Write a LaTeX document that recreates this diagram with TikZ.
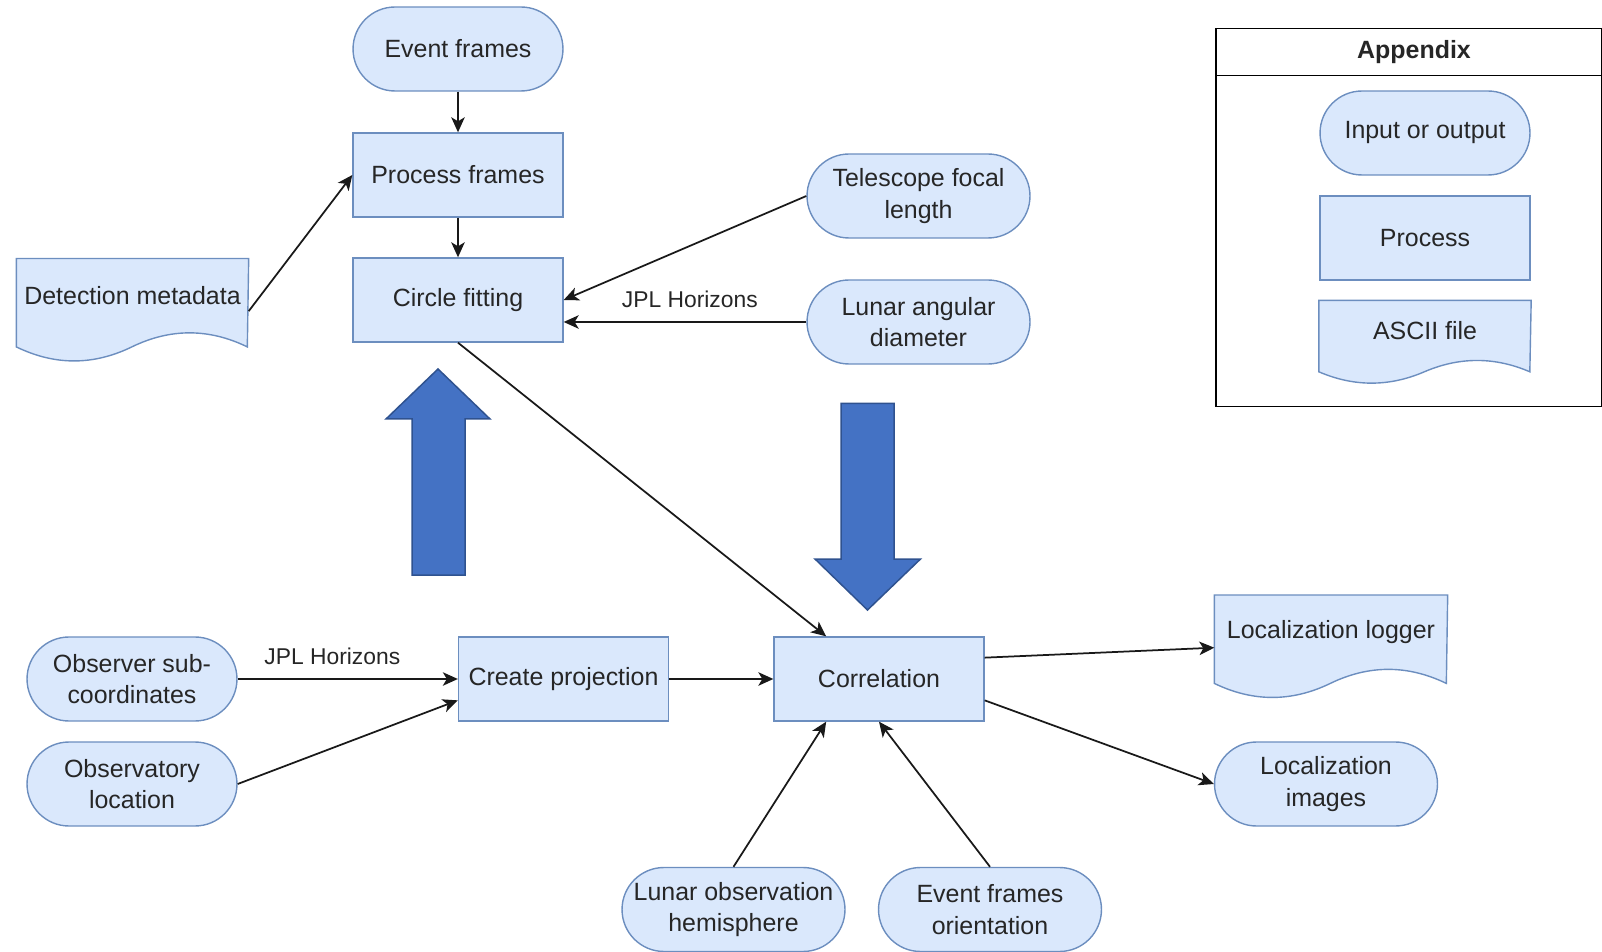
\documentclass[tikz,border=0pt]{standalone}
\usepackage{fontspec}
\setmainfont{Liberation Sans}
\usetikzlibrary{backgrounds, calc, arrows.meta}

\definecolor{boxfill}{HTML}{DAE8FC}
\definecolor{boxline}{HTML}{6C8EBF}
\definecolor{bigfill}{HTML}{4472C4}
\definecolor{bigline}{HTML}{2F528F}
\definecolor{textgray}{HTML}{262626}

\tikzset{
	base/.style={fill=boxfill, draw=boxline, line width=0.028cm, align=center,
		text=textgray, font=\fontsize{14.2}{18}\selectfont, inner sep=0pt},
	procbox/.style={base, rectangle, minimum width=4.2cm, minimum height=1.68cm},
	iobox/.style={base, rectangle, rounded corners=0.84cm, minimum width=4.2cm,
		minimum height=1.68cm},
	docbox/.style={base, rectangle, fill=none, draw=none, anchor=north},
	wavebox/.style={fill=boxfill, draw=boxline, line width=0.028cm},
	link/.style={line width=0.035cm, draw=black!90,
		-{Stealth[length=0.3cm, width=0.27cm, inset=0.08cm]}},
	linklabel/.style={text=textgray, font=\fontsize{13}{16}\selectfont, inner sep=0pt},
	bigarrow/.style={fill=bigfill, draw=bigline, line width=0.03cm}
}

\newcommand{\wavedoc}[3]{%
	\path[wavebox] (#1.north west) -- (#1.north east)
		-- ($(#1.north west)+(#2,0.85*#3)$)
		.. controls ($(#1.north west)+(0.8333*#2,0.67*#3)$) and ($(#1.north west)+(0.6667*#2,0.67*#3)$)
		.. ($(#1.north west)+(0.5*#2,0.85*#3)$)
		.. controls ($(#1.north west)+(0.3333*#2,1.03*#3)$) and ($(#1.north west)+(0.1667*#2,1.03*#3)$)
		.. ($(#1.north west)+(0,0.85*#3)$) -- cycle;%
}

\begin{document}
\begin{tikzpicture}[x=0.02cm, y=-0.02cm]
		\useasboundingbox (0,0) rectangle (1602,952);
		\node[iobox] (eventframes) at (458,49) {Event frames};
		\node[procbox] (processframes) at (458,175) {Process frames};
		\node[procbox] (circlefit) at (458,300) {Circle fitting};
		\node[docbox, minimum width=4.62cm, minimum height=1.456cm] (detection) at (132.5,258.5) {Detection metadata};
		\node[iobox, minimum width=4.46cm] (focal) at (918.5,196) {Telescope focal\\length};
		\node[iobox, minimum width=4.46cm] (angdiam) at (918.5,322) {Lunar angular\\diameter};
		\node[iobox] (obssub) at (132,679) {Observer sub-\\coordinates};
		\node[iobox] (obsloc) at (132,784) {Observatory\\location};
		\node[procbox] (projection) at (563.5,679) {Create projection};
		\node[procbox] (correlation) at (879,679) {Correlation};
		\node[docbox, minimum width=4.64cm, minimum height=1.456cm] (logger) at (1331,595) {Localization logger};
		\node[iobox, minimum width=4.46cm] (locimages) at (1326,784) {Localization\\images};
		\node[iobox, minimum width=4.46cm] (hemisphere) at (733.5,909.5) {Lunar observation\\hemisphere};
		\node[iobox, minimum width=4.46cm] (orientation) at (990,909.5) {Event frames\\orientation};

		\node[draw, line width=0.03cm, anchor=north west, minimum width=7.72cm, minimum height=7.56cm,
			inner sep=0pt] (appendix) at (1215,27.6) {};
		\draw[line width=0.03cm] ($(appendix.north west)+(0,48)$) -- ($(appendix.north east)+(0,48)$);
		\node[text=textgray, font=\fontsize{14.2}{18}\selectfont\bfseries] (apptitle) at (1414,52) {Appendix};
		\node[iobox] (legio) at (1425,133) {Input or output};
		\node[procbox] (legproc) at (1425,238) {Process};
		\node[docbox, minimum width=4.22cm, minimum height=1.176cm] (legascii) at (1425,300.4) {ASCII file};

		\begin{scope}[on background layer]
			\wavedoc{detection}{231}{104}
			\wavedoc{logger}{232}{104}
			\wavedoc{legascii}{211}{84}
		\end{scope}

		\filldraw[bigarrow] (412,575) -- (412,419) -- (386,419) -- (438,369) -- (490,419) -- (465,419) -- (465,575) -- cycle;
		\filldraw[bigarrow] (841,403.5) -- (894,403.5) -- (894,559) -- (920.5,559) -- (867.5,610) -- (815,559) -- (841,559) -- cycle;

		\draw[link] (eventframes) -- (processframes);
		\draw[link] (processframes) -- (circlefit);
		\draw[link] ([yshift=-0.312cm]detection.east) -- (processframes.west);
		\draw[link] (focal.west) -- (circlefit.east);
		\draw[link] (angdiam.west) -- (angdiam.west -| circlefit.east)
			node[linklabel, above=0.27cm, pos=0.48] (jplupper) {JPL Horizons};
		\draw[link] (circlefit.south) -- ($(correlation.north west)!0.25!(correlation.north east)$);
		\draw[link] (obssub.east) -- (projection.west)
			node[linklabel, above=0.27cm, pos=0.43] (jpllower) {JPL Horizons};
		\draw[link] (obsloc.east) -- ($(projection.west)!0.5!(projection.south west)$);
		\draw[link] (projection.east) -- (correlation.west);
		\draw[link] ($(correlation.north east)!0.25!(correlation.south east)$) -- ([yshift=-0.312cm]logger.west);
		\draw[link] ($(correlation.east)!0.5!(correlation.south east)$) -- (locimages.west);
		\draw[link] (hemisphere.north) -- ($(correlation.south west)!0.25!(correlation.south east)$);
		\draw[link] (orientation.north) -- (correlation.south);
\end{tikzpicture}
\end{document}
